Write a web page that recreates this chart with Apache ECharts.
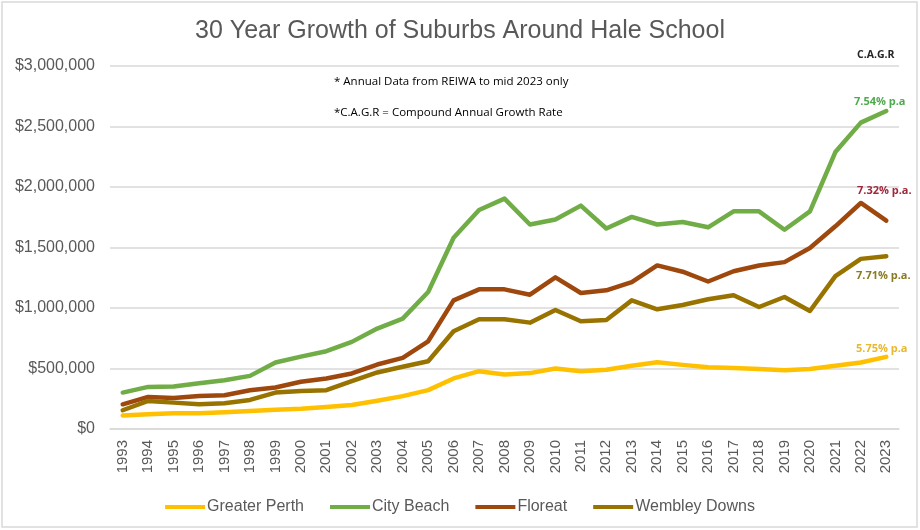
<!DOCTYPE html>
<html>
<head>
<meta charset="utf-8">
<script src="https://cdn.jsdelivr.net/npm/echarts@6/dist/echarts.min.js"></script>
<style>
html,body{margin:0;padding:0;background:#fff;}
#chart{width:920px;height:530px;}
</style>
</head>
<body>
<div id="chart"></div>
<script>
var years = ['1993','1994','1995','1996','1997','1998','1999','2000','2001','2002','2003','2004','2005','2006','2007','2008','2009','2010','2011','2012','2013','2014','2015','2016','2017','2018','2019','2020','2021','2022','2023'];
var greaterPerth = [112000,122000,130000,130000,138000,149000,160000,168000,181000,198000,233000,272000,321000,418000,478000,451000,462000,500000,478000,489000,522000,552000,530000,511000,505000,495000,486000,495000,522000,550000,596000];
var cityBeach = [301000,348000,351000,378000,403000,439000,550000,598000,643000,720000,830000,912000,1132000,1580000,1810000,1904000,1690000,1731000,1846000,1657000,1753000,1690000,1711000,1667000,1799000,1799000,1647000,1799000,2289000,2532000,2628000];
var floreat = [204000,265000,257000,273000,279000,320000,343000,390000,418000,459000,533000,588000,725000,1063000,1154000,1154000,1110000,1253000,1124000,1146000,1214000,1352000,1300000,1219000,1304000,1351000,1379000,1496000,1675000,1868000,1722000];
var wembleyDowns = [155000,232000,218000,204000,213000,240000,301000,315000,321000,396000,467000,514000,560000,808000,907000,907000,879000,984000,890000,901000,1063000,989000,1025000,1072000,1105000,1008000,1091000,975000,1263000,1406000,1428000];
var seriesNames = ['Greater Perth','City Beach','Floreat','Wembley Downs'];
var cagrLabels = ['5.75% p.a','7.54% p.a','7.32% p.a.','7.71% p.a.'];

var colors = ['#FFC000','#70AD47','#9E480E','#997300'];
var labelColors = ['#E8B830','#4FAA4F','#A0283C','#8A7A22'];
var dataSets = [greaterPerth, cityBeach, floreat, wembleyDowns];

var chart = echarts.init(document.getElementById('chart'), null, {renderer:'canvas'});

function money(v){
  return '$' + String(v).replace(/\B(?=(\d{3})+(?!\d))/g, ',');
}

var series = seriesNames.map(function(n,i){
  return {
    name:n, type:'line', data:dataSets[i], symbol:'none', smooth:false,
    lineStyle:{color:colors[i], width:4.5, cap:'round', join:'round'},
    itemStyle:{color:colors[i]}
  };
});

chart.setOption({
  animation:false,
  backgroundColor:'#ffffff',
  title:{
    text:'30 Year Growth of Suburbs Around Hale School',
    left:'center', top:14,
    textStyle:{fontFamily:'Liberation Sans', fontSize:25, fontWeight:'normal', color:'#595959'}
  },
  grid:{left:110, right:21, top:66, bottom:101, containLabel:false},
  xAxis:{
    type:'category', data:years, boundaryGap:true,
    axisLine:{lineStyle:{color:'#D9D9D9', width:1.5}},
    axisTick:{show:false},
    axisLabel:{rotate:90, interval:0, margin:11, fontFamily:'Liberation Sans', fontSize:15, color:'#595959'}
  },
  yAxis:{
    type:'value', min:0, max:3000000, interval:500000,
    axisLine:{show:false}, axisTick:{show:false},
    splitLine:{lineStyle:{color:'#D9D9D9', width:1.5}},
    axisLabel:{formatter:money, margin:15, fontFamily:'Liberation Sans', fontSize:16, color:'#595959'}
  },
  legend:{
    data:seriesNames, left:'center', top:494, icon:'rect', itemWidth:40, itemHeight:4, itemGap:26,
    textStyle:{fontFamily:'Liberation Sans', fontSize:16, color:'#595959', padding:[0,0,0,-3]}
  },
  graphic:[
    {type:'rect', z:100, shape:{x:2, y:2, width:915, height:525}, style:{fill:'none', stroke:'#D9D9D9', lineWidth:1.5}, silent:true},
    {type:'text', z:100, left:334, top:76, style:{text:'* Annual Data from REIWA to mid 2023 only', font:'11.5px "Open Sans"', fill:'#000000'}},
    {type:'text', z:100, left:334, top:107, style:{text:'*C.A.G.R = Compound Annual Growth Rate', font:'11.5px "Open Sans"', fill:'#000000'}},
    {type:'text', z:100, left:857, top:50, style:{text:'C.A.G.R', font:'bold 10.5px "Open Sans"', fill:'#262626'}},
    {type:'text', z:100, left:854, top:96, style:{text:cagrLabels[1], font:'bold 11px "Open Sans"', fill:labelColors[1]}},
    {type:'text', z:100, left:857, top:185, style:{text:cagrLabels[2], font:'bold 11px "Open Sans"', fill:labelColors[2]}},
    {type:'text', z:100, left:856, top:270, style:{text:cagrLabels[3], font:'bold 11px "Open Sans"', fill:labelColors[3]}},
    {type:'text', z:100, left:856, top:343, style:{text:cagrLabels[0], font:'bold 11px "Open Sans"', fill:labelColors[0]}}
  ],
  series:series
});
</script>
</body>
</html>
